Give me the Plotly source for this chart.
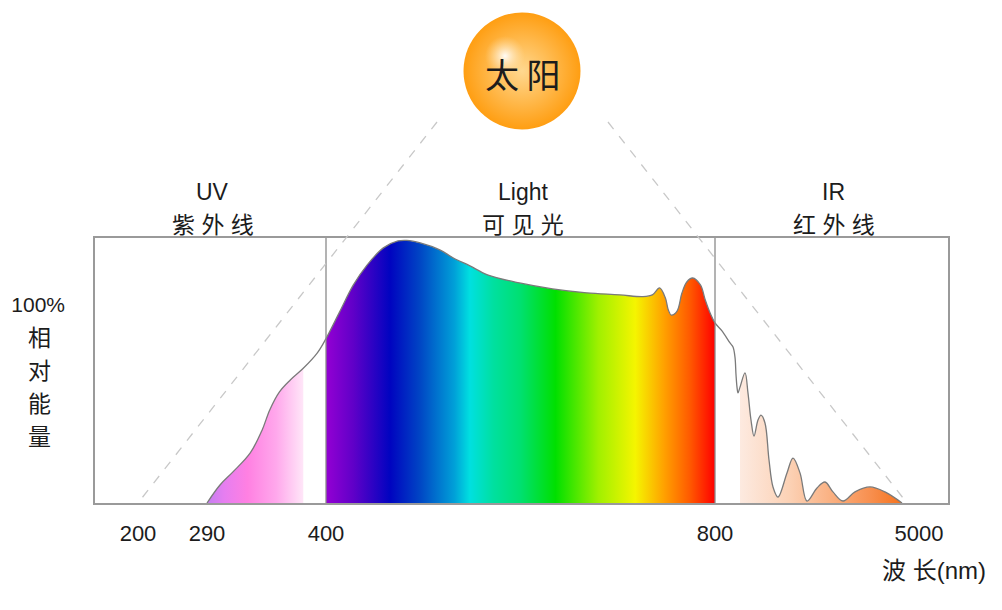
"""Solar spectrum sketch: UV / visible / IR bands of sunlight, relative energy by wavelength."""
import numpy as np
import plotly.graph_objects as go

# wavelength (nm) and relative energy (% of the visible plateau)
WAVELENGTH_NM = [
    290, 302, 314, 330, 341, 348, 357, 367, 379, 392,
    400, 414, 428, 442, 459, 474, 483, 497, 517, 531,
    548, 566, 599, 633, 668, 702, 726, 736, 743, 749,
    752, 755, 761, 766, 771, 777, 785, 790, 795, 800,
    944, 1109, 1171, 1212, 1232, 1253, 1274, 1315, 1418, 1479,
    1541, 1603, 1685, 1747, 1829, 1912, 1994, 2097, 2282, 2406,
    2550, 2694, 2900, 3065, 3229, 3435, 3682, 3991, 4300, 4650,
]
ENERGY_PCT = [
    0.0, 9.1, 15.7, 25.3, 36.9, 47.0, 56.1, 62.1, 68.0, 75.8,
    83.0, 96.5, 110.0, 120.0, 128.8, 132.3, 132.6, 131.3, 127.8, 123.7,
    119.7, 115.2, 111.1, 108.1, 106.1, 105.1, 104.2, 105.2, 108.6, 103.5,
    97.5, 94.9, 96.9, 106.0, 111.6, 113.6, 110.1, 102.5, 95.9, 90.9,
    86.9, 80.8, 78.8, 73.5, 65.0, 58.5, 55.6, 58.5, 65.7, 55.6,
    41.9, 33.8, 41.9, 44.4, 40.4, 21.7, 8.1, 3.0, 15.2, 22.7,
    15.2, 1.0, 7.6, 10.6, 5.6, 1.0, 5.6, 8.1, 5.6, 0.0,
]

# coloured parts under the curve (nm)
UV_BAND = (290, 379)
VISIBLE_BAND = (400, 800)
IR_BAND = (1315, 4650)

BAND_TITLES = ["UV", "Light", "IR"]
BAND_NAMES = ["紫 外 线", "可 见 光", "红 外 线"]
BAND_EDGES_NM = [400, 800]

TICK_NM = [200, 290, 400, 800, 5000]
TICK_TEXT = ["200", "290", "400", "800", "5000"]
Y_LABEL = ["相", "对", "能", "量"]

# the wavelength axis is schematic: piecewise linear between these stops
WL_STOPS = [200, 290, 400, 800, 5000]
AXIS_STOPS = [138, 207, 326, 715, 919]
X_RANGE = [95, 948]
Y_RANGE = [0, 133.8]

W, H = 1002, 610
PAGE_PAD = 8          # browser body margin around the plot div
FW, FH = W - PAGE_PAD, H - PAGE_PAD
FONT = "Liberation Sans, Noto Sans CJK SC, sans-serif"
INK = "#1c1c1c"
OUTLINE = "#7a7a7a"

UV_SCALE = [[0.0, "#c47ef0"], [0.18, "#e67ef0"], [0.42, "#ff80e2"],
            [0.72, "#ffa8ec"], [1.0, "#ffe6f8"]]
RAINBOW = [[0.0, "#9400d3"], [0.07, "#6000c8"], [0.165, "#0004c0"],
           [0.24, "#0044c4"], [0.33, "#00a0d8"], [0.37, "#00e0e0"],
           [0.43, "#00e0a0"], [0.50, "#00e070"], [0.59, "#00e000"],
           [0.70, "#a0f000"], [0.795, "#f5f500"], [0.87, "#ffa000"],
           [0.935, "#ff5a00"], [1.0, "#ff0000"]]
IR_SCALE = [[0.0, "#fdeae0"], [0.3, "#fcd2b6"], [0.55, "#fab284"],
            [0.8, "#f89050"], [1.0, "#f5721c"]]


def to_axis(nm):
    return np.interp(nm, WL_STOPS, AXIS_STOPS)


def dom_x(px):
    return (px - PAGE_PAD) / FW


def dom_y(py):
    return 1 - (py - PAGE_PAD) / FH


wl = np.array(WAVELENGTH_NM, dtype=float)
en = np.array(ENERGY_PCT, dtype=float)

fig = go.Figure()


def band_fill(band, scale):
    keep = (wl >= band[0]) & (wl <= band[1])
    xs = to_axis(wl[keep])
    fig.add_trace(go.Scatter(
        x=xs, y=en[keep], mode="lines", line=dict(width=0, shape="spline"),
        fill="tozeroy",
        fillgradient=dict(type="horizontal", colorscale=scale,
                          start=float(xs.min()), stop=float(xs.max())),
        hoverinfo="skip", showlegend=False))


band_fill(UV_BAND, UV_SCALE)
band_fill(VISIBLE_BAND, RAINBOW)
band_fill(IR_BAND, IR_SCALE)

# outline of the whole spectrum
fig.add_trace(go.Scatter(
    x=to_axis(wl), y=en, mode="lines",
    line=dict(color=OUTLINE, width=1.3, shape="spline"),
    hoverinfo="skip", showlegend=False))

# the sun, on a full-canvas overlay axis (pixel units)
fig.add_trace(go.Scatter(
    x=[522], y=[71], mode="markers", xaxis="x2", yaxis="y2",
    marker=dict(size=117, color="#ff9e12", line=dict(width=0),
                gradient=dict(type="radial", color="#ffd890")),
    hoverinfo="skip", showlegend=False, cliponaxis=False))
fig.add_trace(go.Scatter(
    x=[505], y=[56], mode="markers", xaxis="x2", yaxis="y2",
    marker=dict(size=40, color="rgba(255,225,170,0)", line=dict(width=0),
                gradient=dict(type="radial", color="rgba(255,255,255,0.95)")),
    hoverinfo="skip", showlegend=False, cliponaxis=False))

shapes = []
for nm in BAND_EDGES_NM:
    shapes.append(dict(type="line", xref="x", yref="y domain",
                       x0=to_axis(nm), x1=to_axis(nm), y0=0, y1=1,
                       line=dict(color="#8a8a8a", width=1.3), layer="above"))
# dashed rays from the sun down to the ends of the spectrum
shapes.append(dict(type="line", xref="x2", yref="y2", x0=437, y0=122,
                   x1=float(to_axis(200)), y1=503,
                   line=dict(color="#c8c8c8", width=1.3, dash="dash")))
shapes.append(dict(type="line", xref="x2", yref="y2", x0=608, y0=122,
                   x1=907, y1=503,
                   line=dict(color="#c8c8c8", width=1.3, dash="dash")))

annotations = [dict(x=523, y=73, xref="x2", yref="y2", text="太 阳",
                    showarrow=False, font=dict(family="Noto Sans CJK SC",
                                               size=34, color=INK))]
band_x = [X_RANGE[0]] + [float(to_axis(nm)) for nm in BAND_EDGES_NM] + [X_RANGE[1]]
for i, (title, name) in enumerate(zip(BAND_TITLES, BAND_NAMES)):
    cx = (band_x[i] + band_x[i + 1]) / 2 + 2
    annotations.append(dict(x=cx, y=192, xref="x2", yref="y2",
                            text=title, showarrow=False, xanchor="center",
                            yanchor="middle",
                            font=dict(family=FONT, size=23, color=INK)))
    annotations.append(dict(x=cx, y=225, xref="x2", yref="y2",
                            text=name, showarrow=False, xanchor="center",
                            yanchor="middle",
                            font=dict(family=FONT, size=23, color=INK)))
for i, ch in enumerate(Y_LABEL):
    annotations.append(dict(x=39, y=338 + 33 * i, xref="x2", yref="y2",
                            text=ch, showarrow=False, xanchor="center",
                            yanchor="middle",
                            font=dict(family=FONT, size=23, color=INK)))
annotations.append(dict(x=988, y=570, xref="x2", yref="y2",
                        text="波 长(nm)", showarrow=False, xanchor="right",
                        yanchor="middle",
                        font=dict(family=FONT, size=24, color=INK)))

fig.update_layout(
    width=FW, height=FH, margin=dict(l=0, r=0, t=0, b=0),
    paper_bgcolor="white", plot_bgcolor="rgba(0,0,0,0)",
    xaxis=dict(domain=[dom_x(X_RANGE[0]), dom_x(X_RANGE[1])], range=X_RANGE,
               showgrid=False, zeroline=False, showline=True, mirror=True,
               linecolor="#9a9a9a", linewidth=1.5, ticks="",
               tickvals=to_axis(TICK_NM), ticktext=TICK_TEXT,
               ticklabelstandoff=10,
               tickfont=dict(family=FONT, size=22, color=INK)),
    yaxis=dict(domain=[dom_y(503), dom_y(238)], range=Y_RANGE,
               showgrid=False, zeroline=False, showline=True, mirror=True,
               linecolor="#9a9a9a", linewidth=1.5, ticks="",
               tickvals=[100], ticktext=["100%"], ticklabelstandoff=24,
               tickfont=dict(family=FONT, size=21, color=INK)),
    xaxis2=dict(domain=[0, 1], range=[PAGE_PAD, W], visible=False, anchor="y2"),
    yaxis2=dict(domain=[0, 1], range=[H, PAGE_PAD], visible=False, anchor="x2"),
    shapes=shapes, annotations=annotations,
)

fig.write_html("out.html")
